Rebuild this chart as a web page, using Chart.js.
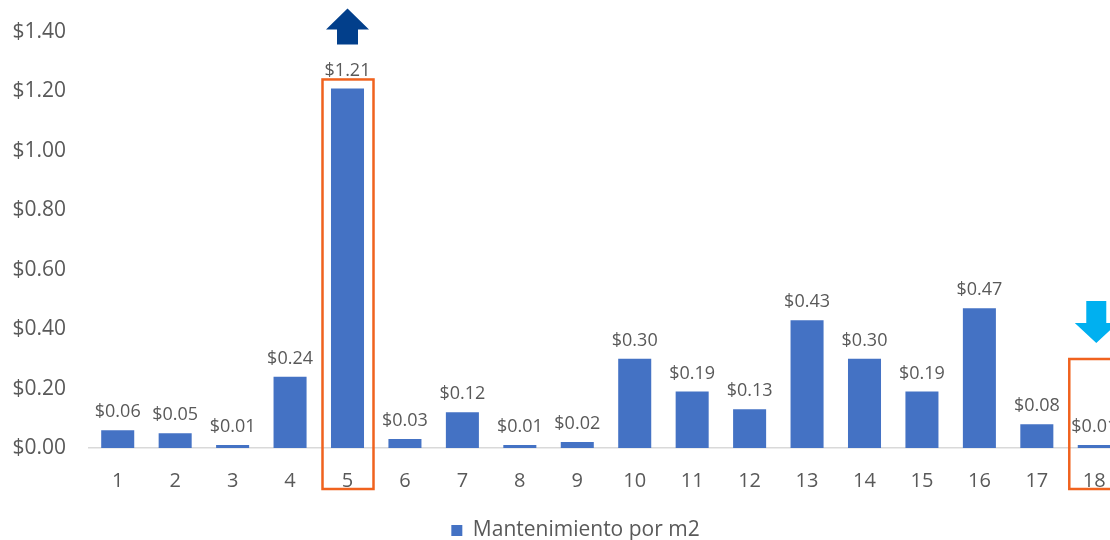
<!DOCTYPE html>
<html>
<head>
<meta charset="utf-8">
<script src="https://cdn.jsdelivr.net/npm/chart.js@4.4.1/dist/chart.umd.min.js"></script>
<style>
  html, body { margin: 0; padding: 0; overflow: hidden; background: #fff; }
  #wrap { width: 1156px; height: 551px; }
</style>
</head>
<body>
<div id="wrap"><canvas id="barChart"></canvas></div>
<script>
var categories = ["1","2","3","4","5","6","7","8","9","10","11","12","13","14","15","16","17","18"];
var mantenimiento = [0.06, 0.05, 0.01, 0.24, 1.21, 0.03, 0.12, 0.01, 0.02, 0.30, 0.19, 0.13, 0.43, 0.30, 0.19, 0.47, 0.08, 0.01];
var seriesName = "Mantenimiento por m2";
var highIndex = 4;   // bar 5, highest
var lowIndex = 17;   // bar 18, lowest

var FONT = "'Open Sans', sans-serif";

// value labels above each bar
var labelPlugin = {
  id: 'valueLabels',
  afterLayout: function(chart) {
    // nudge legend a bit right, like the original
    chart.legend.left += 14;
    chart.legend.right += 14;
  },
  afterDatasetsDraw: function(chart) {
    var ctx = chart.ctx;
    var meta = chart.getDatasetMeta(0);
    ctx.save();
    ctx.font = "18px " + FONT;
    ctx.fillStyle = "#595959";
    ctx.textAlign = "center";
    ctx.textBaseline = "bottom";
    meta.data.forEach(function(bar, i) {
      ctx.fillText("$" + mantenimiento[i].toFixed(2), bar.x, bar.y - 9);
    });
    ctx.restore();
  }
};

// orange boxes + arrows marking highest and lowest
var markPlugin = {
  id: 'marks',
  afterDraw: function(chart) {
    var ctx = chart.ctx;
    var x = chart.scales.x, y = chart.scales.y;
    var base = y.getPixelForValue(0);
    ctx.save();
    ctx.strokeStyle = "#F0621E";
    ctx.lineWidth = 2.5;

    var hx = x.getPixelForValue(highIndex);
    var htop = y.getPixelForValue(mantenimiento[highIndex]);
    ctx.strokeRect(hx - 25, htop - 9, 51, base + 41 - (htop - 9));

    var lx = x.getPixelForValue(lowIndex);
    ctx.strokeRect(lx - 25, base - 89, 60, 130);

    // up arrow
    ctx.fillStyle = "#023F8B";
    var at = htop - 80;
    ctx.beginPath();
    ctx.moveTo(hx, at);
    ctx.lineTo(hx + 21.5, at + 21);
    ctx.lineTo(hx + 10.5, at + 21);
    ctx.lineTo(hx + 10.5, at + 36);
    ctx.lineTo(hx - 10.5, at + 36);
    ctx.lineTo(hx - 10.5, at + 21);
    ctx.lineTo(hx - 21.5, at + 21);
    ctx.closePath();
    ctx.fill();

    // down arrow
    ctx.fillStyle = "#00B0F0";
    var dt = base - 147;
    var dx = lx + 2;
    ctx.beginPath();
    ctx.moveTo(dx - 10, dt);
    ctx.lineTo(dx + 10, dt);
    ctx.lineTo(dx + 10, dt + 22);
    ctx.lineTo(dx + 21.5, dt + 22);
    ctx.lineTo(dx, dt + 42);
    ctx.lineTo(dx - 21.5, dt + 22);
    ctx.lineTo(dx - 10, dt + 22);
    ctx.closePath();
    ctx.fill();
    ctx.restore();
  }
};

var ctxB = document.getElementById("barChart").getContext('2d');
var myBarChart = new Chart(ctxB, {
  type: 'bar',
  data: {
    labels: categories,
    datasets: [{
      label: seriesName,
      data: mantenimiento,
      backgroundColor: "#4472C4",
      categoryPercentage: 1,
      barPercentage: 0.575
    }]
  },
  options: {
    responsive: true,
    maintainAspectRatio: false,
    animation: false,
    layout: { padding: { top: 32, right: 33, left: 0, bottom: 0 } },
    plugins: {
      legend: {
        position: 'bottom',
        labels: {
          font: { family: FONT, size: 21 },
          color: "#595959",
          boxWidth: 11,
          boxHeight: 11,
          padding: 3
        }
      },
      tooltip: { enabled: false }
    },
    scales: {
      x: {
        grid: { display: false },
        border: { display: true, color: "#D9D9D9", width: 1.5 },
        ticks: { font: { family: FONT, size: 20 }, color: "#595959", padding: 13 },
        afterFit: function(scale) { scale.height = 69; }
      },
      y: {
        min: 0,
        max: 1.4,
        grid: { display: false },
        border: { display: false },
        ticks: {
          stepSize: 0.2,
          font: { family: FONT, size: 21 },
          color: "#595959",
          padding: 15,
          callback: function(v) { return "$" + Number(v).toFixed(2); }
        },
        afterFit: function(scale) { scale.width = 89; }
      }
    }
  },
  plugins: [labelPlugin, markPlugin]
});
</script>
</body>
</html>
